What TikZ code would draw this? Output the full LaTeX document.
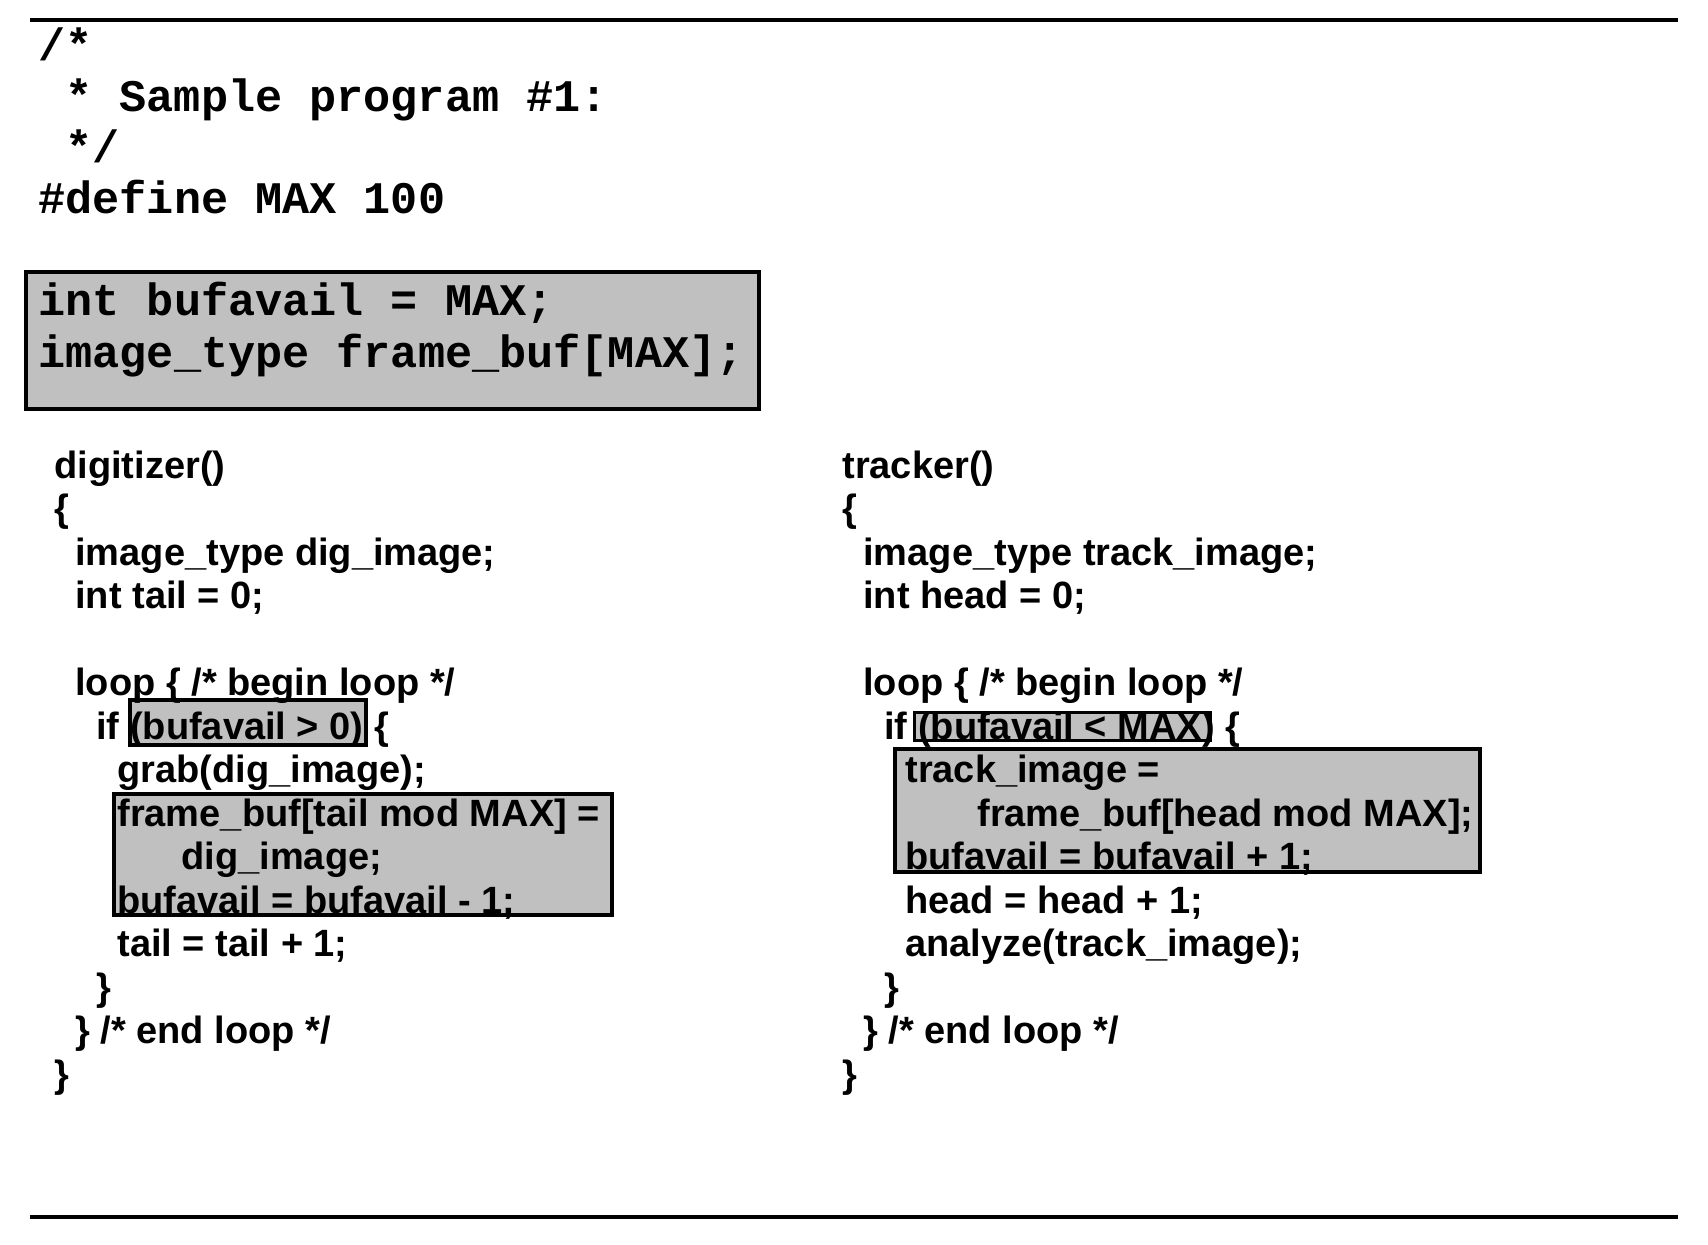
\documentclass[tikz,border=0pt]{standalone}
\usepackage{fontspec}
\newfontfamily\monof{Liberation Mono}
\newfontfamily\sansf{Liberation Sans}
\definecolor{boxgray}{HTML}{C0C0C0}
\tikzset{
  mono/.style={anchor=base west, inner sep=0pt, font=\monof\bfseries\fontsize{22.6}{26}\selectfont},
  sans/.style={anchor=base west, inner sep=0pt, font=\sansf\bfseries\fontsize{19}{22}\selectfont},
  gbox/.style={draw=black, fill=boxgray, line width=2pt},
  thinbox/.style={draw=black, fill=boxgray, line width=1.5pt},
  rulerline/.style={line width=2pt}
}
\begin{document}
\begin{tikzpicture}[x=0.5pt, y=-0.5pt]
\useasboundingbox (0,0) rectangle (1708,1244);
% rules
\coordinate (tl) at (30,20);
\coordinate (tr) at (1678,20);
\coordinate (bl) at (30,1217);
\coordinate (br) at (1678,1217);
\draw[rulerline] (tl) -- (tr);
\draw[rulerline] (bl) -- (br);
% shaded boxes
\path[gbox] (26,272) rectangle (759,409);
\path[gbox] (130,700) rectangle (366,745);
\path[gbox] (114,794) rectangle (612,915);
\path[thinbox] (914.5,712.5) rectangle (1210.5,740);
\path[gbox] (895,749) rectangle (1480,872);
% header (monospace)
\node[mono] (h1) at (38,60) {/*};
\node[mono] (h2) at (65,111) {* Sample program \#1:};
\node[mono] (h3) at (65,162) {*/};
\node[mono] (h4) at (38,213) {\#define MAX 100};
\node[mono] (g1) at (38,315) {int bufavail = MAX;};
\node[mono] (g2) at (38,367) {image\_type frame\_buf[MAX];};
% digitizer
\node[sans] (d0) at (54,478) {digitizer()};
\node[sans] (d1) at (54,521.5) {\{};
\node[sans] (d2) at (75,565) {image\_type dig\_image;};
\node[sans] (d3) at (75,608.5) {int tail = 0;};
\node[sans] (d5) at (75,695.5) {loop \{ /* begin loop */};
\node[sans] (d6) at (96,739) {if (bufavail > 0) \{};
\node[sans] (d7) at (117,782.5) {grab(dig\_image);};
\node[sans] (d8) at (117,826) {frame\_buf[tail mod MAX] =};
\node[sans] (d9) at (181,869.5) {dig\_image;};
\node[sans] (d10) at (117,913) {bufavail = bufavail - 1;};
\node[sans] (d11) at (117,956.5) {tail = tail + 1;};
\node[sans] (d12) at (96,1000) {\}};
\node[sans] (d13) at (75,1043.5) {\} /* end loop */};
\node[sans] (d14) at (54,1087) {\}};
% tracker
\node[sans] (t0) at (842,478) {tracker()};
\node[sans] (t1) at (842,521.5) {\{};
\node[sans] (t2) at (863,565) {image\_type track\_image;};
\node[sans] (t3) at (863,608.5) {int head = 0;};
\node[sans] (t5) at (863,695.5) {loop \{ /* begin loop */};
\node[sans] (t6) at (884,739) {if (bufavail < MAX) \{};
\node[sans] (t7) at (905,782.5) {track\_image =};
\node[sans] (t8) at (977,826) {frame\_buf[head mod MAX];};
\node[sans] (t9) at (905,869.5) {bufavail = bufavail + 1;};
\node[sans] (t10) at (905,913) {head = head + 1;};
\node[sans] (t11) at (905,956.5) {analyze(track\_image);};
\node[sans] (t12) at (884,1000) {\}};
\node[sans] (t13) at (863,1043.5) {\} /* end loop */};
\node[sans] (t14) at (842,1087) {\}};
\end{tikzpicture}
\end{document}
